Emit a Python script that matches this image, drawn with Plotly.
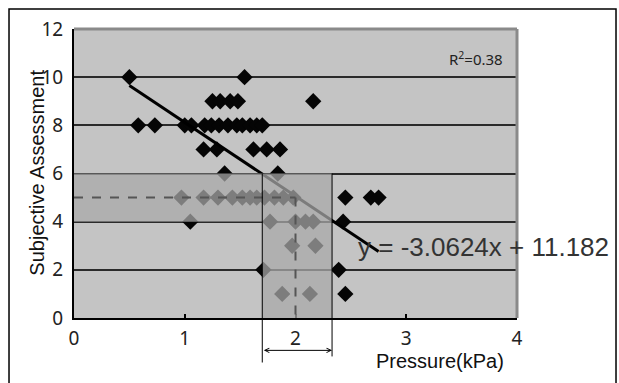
import plotly.graph_objects as go

# ---- data ----
pressure = [0.50, 1.54,
            1.25, 1.32, 1.41, 1.48, 2.16,
            0.58, 0.73, 1.00, 1.06, 1.18, 1.24, 1.31, 1.39, 1.47, 1.52, 1.59, 1.65, 1.70,
            1.17, 1.29, 1.62, 1.74, 1.86,
            1.36, 1.84,
            0.97, 1.17, 1.30, 1.43, 1.52, 1.59, 1.65, 1.72, 1.81, 1.89, 1.98, 2.45, 2.68, 2.75,
            1.05, 1.77, 2.00, 2.09, 2.16, 2.43,
            1.97, 2.18,
            1.71, 2.39,
            1.88, 2.13, 2.45]
assessment = [10, 10,
              9, 9, 9, 9, 9,
              8, 8, 8, 8, 8, 8, 8, 8, 8, 8, 8, 8, 8,
              7, 7, 7, 7, 7,
              6, 6,
              5, 5, 5, 5, 5, 5, 5, 5, 5, 5, 5, 5, 5, 5,
              4, 4, 4, 4, 4, 4,
              3, 3,
              2, 2,
              1, 1, 1]

slope = -3.0624
intercept = 11.182
trend_x = [0.5, 2.75]
trend_y = [slope * v + intercept for v in trend_x]

x_ticks = [0, 1, 2, 3, 4]
y_ticks = [0, 2, 4, 6, 8, 10, 12]

# highlighted region
band_y = [4, 6]
range_x = [1.7, 2.33]
ref_x, ref_y = 2.0, 5

fig = go.Figure()
fig.add_trace(go.Scatter(x=pressure, y=assessment, mode="markers",
                         marker=dict(symbol="diamond", size=12.5, color="#050505"),
                         showlegend=False, cliponaxis=False))
fig.add_trace(go.Scatter(x=trend_x, y=trend_y, mode="lines",
                         line=dict(color="#000000", width=3), showlegend=False))

shapes = []
# overlay (semi transparent, on top)
path = (f"M 0,{band_y[0]} L 0,{band_y[1]} L {range_x[1]},{band_y[1]} L {range_x[1]},0 "
        f"L {range_x[0]},0 L {range_x[0]},{band_y[0]} Z")
shapes.append(dict(type="path", path=path, xref="x", yref="y", layer="above",
                   fillcolor="rgba(169,169,169,0.735)", line=dict(width=0)))
# dashed reference lines
shapes.append(dict(type="line", xref="x", yref="y", x0=0, x1=ref_x, y0=ref_y, y1=ref_y,
                   layer="above", line=dict(color="#555555", width=2, dash="dash")))
shapes.append(dict(type="line", xref="x", yref="y", x0=ref_x, x1=ref_x, y0=ref_y, y1=0,
                   layer="above", line=dict(color="#555555", width=2, dash="dash")))
# vertical range lines
for xv, ybot in [(range_x[0], -0.154), (range_x[1], -0.133)]:
    shapes.append(dict(type="line", xref="x", yref="y", x0=xv, x1=xv, y0=band_y[1], y1=0,
                       layer="above", line=dict(color="#000000", width=1)))
    shapes.append(dict(type="line", xref="x", yref="paper", x0=xv, x1=xv, y0=0, y1=ybot,
                       layer="above", line=dict(color="#000000", width=1)))
# plot area top and right border (gray)
shapes.append(dict(type="line", xref="paper", yref="paper", x0=0, x1=1, y0=1, y1=1,
                   layer="above", line=dict(color="#8a8a8a", width=3)))
shapes.append(dict(type="line", xref="paper", yref="paper", x0=1, x1=1, y0=0, y1=1,
                   layer="above", line=dict(color="#8a8a8a", width=3)))
# outer frame
shapes.append(dict(type="rect", xref="paper", yref="paper", x0=-0.1467, x1=1.2235,
                   y0=-0.35, y1=1.069, layer="above", line=dict(color="#000000", width=1.5)))

annotations = [
    dict(x=range_x[1], y=-0.112, xref="x", yref="paper", ax=range_x[0], ay=0,
         axref="x", ayref="pixel", showarrow=True, arrowhead=5, startarrowhead=5,
         arrowside="end+start", arrowsize=0.9, arrowwidth=1, arrowcolor="#000000", text=""),
    dict(x=3.63, y=10.76, xref="x", yref="y", text="R<sup>2</sup>=0.38", showarrow=False,
         xanchor="center", yanchor="middle",
         font=dict(family="Noto Sans", size=15, color="#222222")),
    dict(x=3.70, y=2.96, xref="x", yref="y", text="y = -3.0624x + 11.182", showarrow=False,
         xanchor="center", yanchor="middle",
         font=dict(family="Liberation Sans", size=26, color="#333333")),
    dict(x=-0.0835, y=0.503, xref="paper", yref="paper", text="Subjective Assessment",
         textangle=-90, showarrow=False, xanchor="center", yanchor="middle",
         font=dict(family="Liberation Sans", size=20, color="#111111")),
    dict(x=0.826, y=-0.150, xref="paper", yref="paper", text="Pressure(kPa)",
         showarrow=False, xanchor="center", yanchor="middle",
         font=dict(family="Liberation Sans", size=20, color="#111111")),
]

fig.update_layout(
    width=619, height=383,
    margin=dict(l=74, r=102, t=29, b=64.5, autoexpand=False),
    paper_bgcolor="#ffffff", plot_bgcolor="#c4c4c4",
    shapes=shapes, annotations=annotations, showlegend=False,
    xaxis=dict(range=[0, 4], tickvals=x_ticks, ticktext=[str(v) for v in x_ticks],
               showgrid=False, zeroline=False, showline=True, linecolor="#000000", linewidth=2,
               ticks="inside", ticklen=4, tickcolor="#000000", tickwidth=2,
               ticklabelstandoff=2, automargin=False,
               tickfont=dict(family="Noto Sans", size=19, color="#222222")),
    yaxis=dict(range=[0, 12], tickvals=y_ticks, ticktext=[str(v) for v in y_ticks],
               showgrid=True, gridcolor="#2a2a2a", gridwidth=2.2, zeroline=False,
               showline=True, linecolor="#000000", linewidth=2, ticks="",
               ticklabelstandoff=5, automargin=False,
               tickfont=dict(family="Noto Sans", size=19, color="#222222")),
)

fig.write_html("out.html", config={"displayModeBar": False},
               post_script="document.body.style.margin='0px';")
